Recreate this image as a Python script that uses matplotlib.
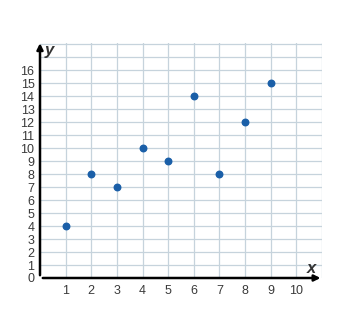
import matplotlib
matplotlib.use("Agg")
import matplotlib.pyplot as plt

plt.rcParams['font.family'] = ['Liberation Sans', 'DejaVu Sans']

x_vals = [1, 2, 3, 4, 5, 6, 7, 8, 9]
y_vals = [4, 8, 7, 10, 9, 14, 8, 12, 15]
x_ticks = list(range(1, 11))
y_ticks = list(range(0, 17))

fig = plt.figure(figsize=(3.5, 3.35), dpi=100)
ax = fig.add_axes([40/350, 1-278/335, (322-40)/350, (278-43)/335])
ax.set_xlim(0, 11)
ax.set_ylim(0, 18.1)

for gx in range(1, 12):
    ax.axvline(gx, color='#c6d3dc', lw=0.9, zorder=0)
for gy in range(1, 19):
    ax.axhline(gy, color='#c6d3dc', lw=0.9, zorder=0)

for s in ax.spines.values():
    s.set_visible(False)

ax.set_xticks(x_ticks)
ax.set_yticks(y_ticks)
ax.tick_params(length=0, labelsize=9, labelcolor='#3a3a3a', pad=5)
ax.set_xticklabels([str(t) for t in x_ticks])
ax.set_yticklabels([str(t) for t in y_ticks])
ax.tick_params(axis='y', pad=4)

# axes arrows
ax.annotate('', xy=(11.05, 0), xytext=(0, 0), xycoords='data',
            arrowprops=dict(arrowstyle='-|>', color='black', lw=1.8, mutation_scale=9), annotation_clip=False)
ax.annotate('', xy=(0, 18.3), xytext=(0, 0), xycoords='data',
            arrowprops=dict(arrowstyle='-|>', color='black', lw=1.8, mutation_scale=9), annotation_clip=False)

ax.text(0.38, 17.5, 'y', fontsize=12, fontweight='bold', style='italic', color='#333333', va='center', ha='center')
ax.text(10.6, 0.75, 'x', fontsize=12, fontweight='bold', style='italic', color='#333333', va='center', ha='center')

ax.scatter(x_vals, y_vals, s=22, color='#1a5fa8', zorder=3, clip_on=False)

fig.savefig('out.png', dpi=100)
